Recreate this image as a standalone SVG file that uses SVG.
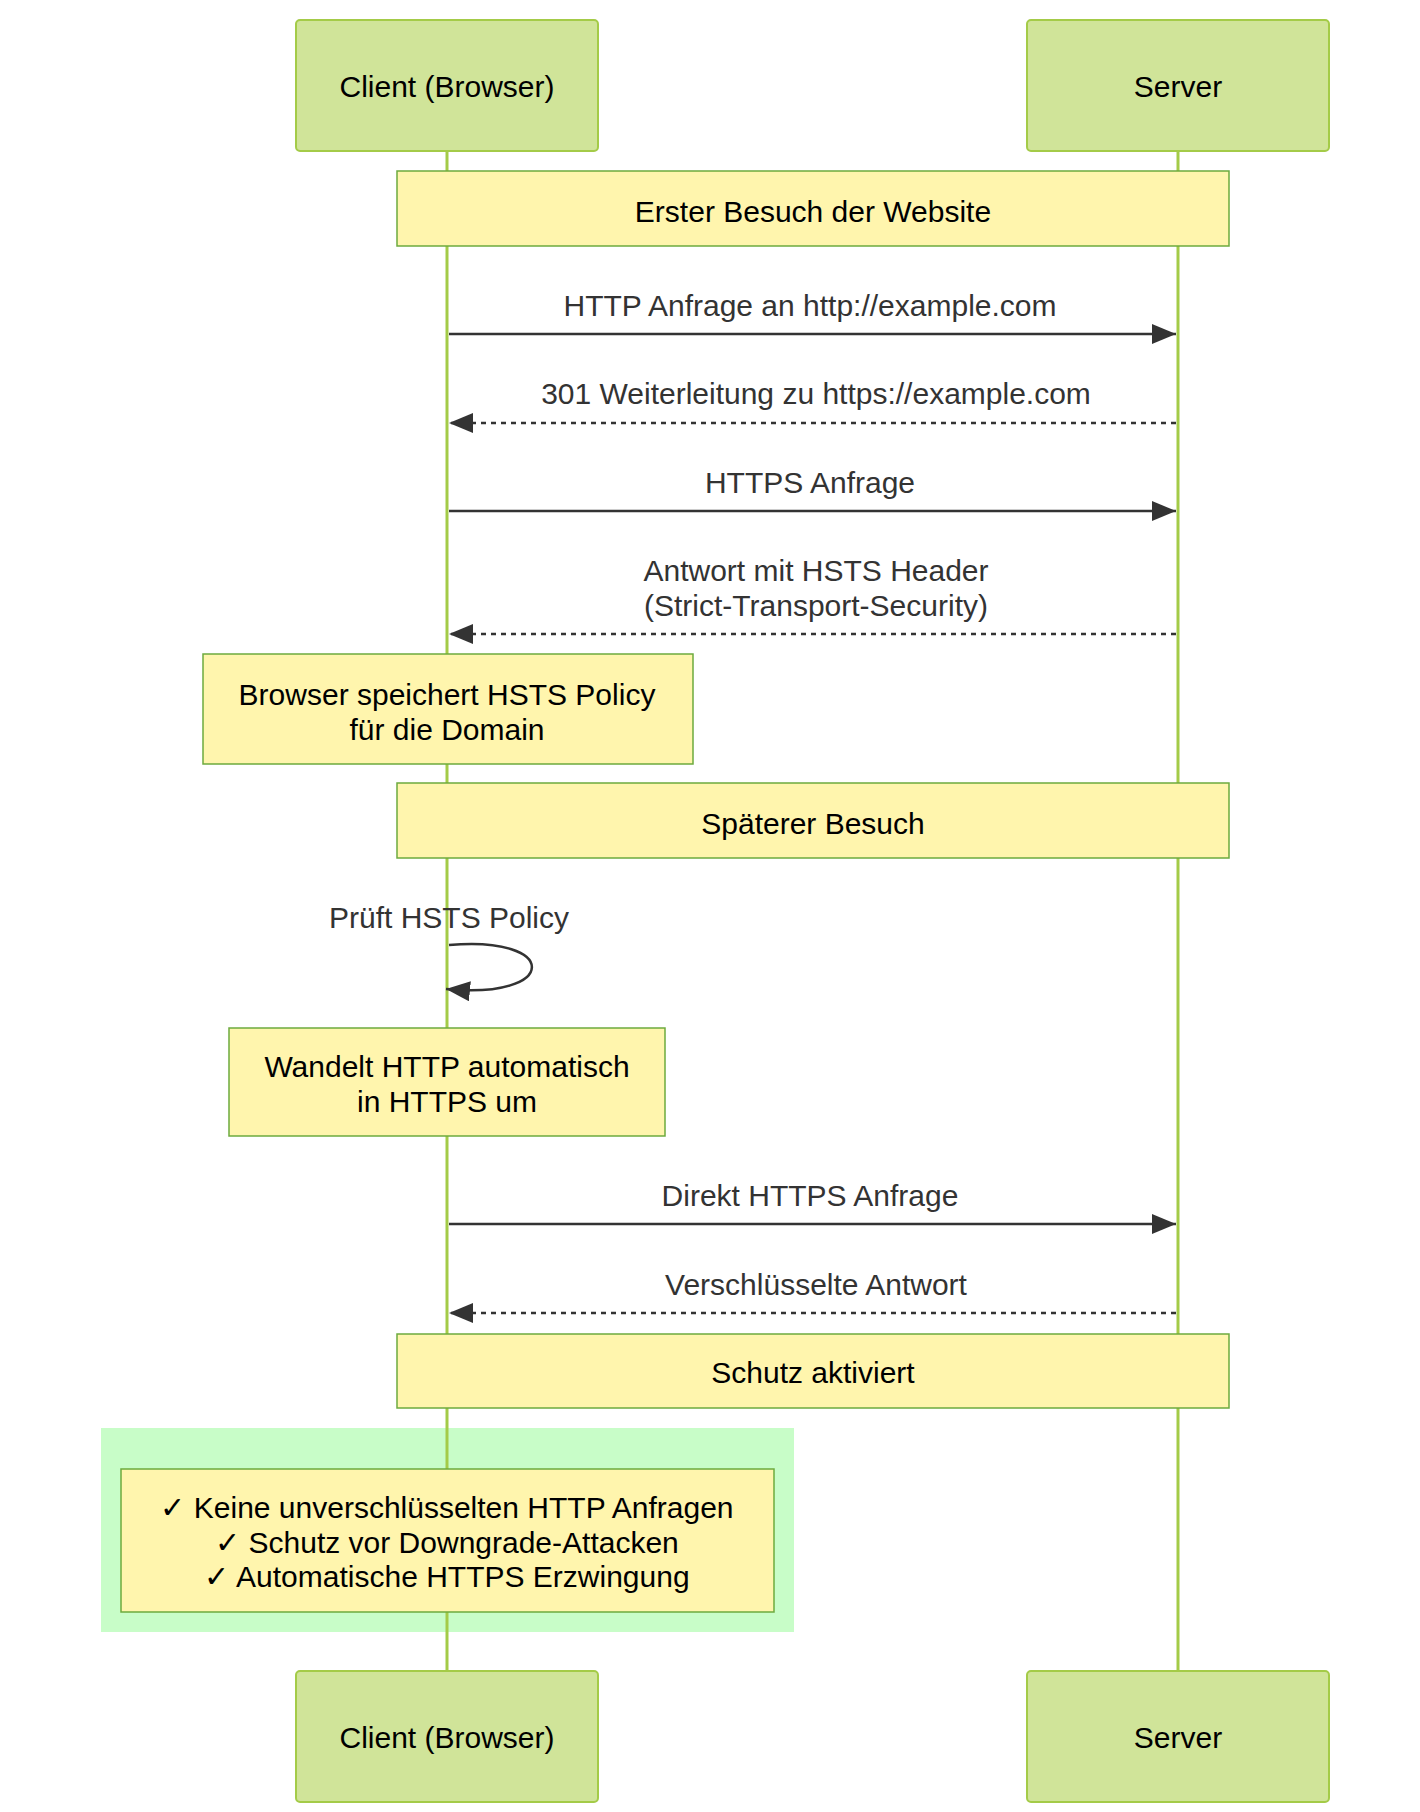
<svg xmlns="http://www.w3.org/2000/svg" width="1420" height="1812" viewBox="0 0 1420 1812">
<style>
text{font-family:"Liberation Sans",Arial,sans-serif;font-size:30px;text-anchor:middle;dominant-baseline:central}
.actor{fill:#d0e499;stroke:#a4cb48;stroke-width:2}
.note{fill:#fff5ad;stroke:#6daa3e;stroke-width:1.5}
.life{stroke:#a4cb48;stroke-width:3}
.msg{stroke:#333;stroke-width:2.5;fill:none}
.dash{stroke-dasharray:5 5}
.mt{fill:#333}
</style>
<defs><marker id="ah" viewBox="0 0 12 12" refX="12" refY="6" markerWidth="12" markerHeight="12" markerUnits="userSpaceOnUse" orient="auto"><path d="M0,0L12,6L0,12z" fill="#333"/></marker>
<marker id="ah2" viewBox="0 0 24 20" refX="24" refY="10" markerWidth="24" markerHeight="20" markerUnits="userSpaceOnUse" orient="auto"><path d="M0,0L24,10L0,20z" fill="#333"/></marker></defs>
<g id="lifelines"><line class="life" x1="447" y1="151" x2="447" y2="1671"/><line class="life" x1="1178" y1="151" x2="1178" y2="1671"/></g>
<rect x="101" y="1428" width="693" height="204" fill="#c8fdc8"/>
<line class="life" x1="447" y1="1428" x2="447" y2="1469"/><line class="life" x1="447" y1="1612" x2="447" y2="1632"/>
<g id="client-top"><rect class="actor" x="296" y="20" width="302" height="131" rx="4"/><text x="447" y="86">Client (Browser)</text></g>
<g id="server-top"><rect class="actor" x="1027" y="20" width="302" height="131" rx="4"/><text x="1178" y="86">Server</text></g>
<g id="client-bottom"><rect class="actor" x="296" y="1671" width="302" height="131" rx="4"/><text x="447" y="1737">Client (Browser)</text></g>
<g id="server-bottom"><rect class="actor" x="1027" y="1671" width="302" height="131" rx="4"/><text x="1178" y="1737">Server</text></g>
<g id="note1"><rect class="note" x="397" y="171" width="832" height="75"/><text x="813" y="211">Erster Besuch der Website</text></g>
<g id="note2"><rect class="note" x="203" y="654" width="490" height="110"/><text x="447" y="694">Browser speichert HSTS Policy</text><text x="447" y="729">für die Domain</text></g>
<g id="note3"><rect class="note" x="397" y="783" width="832" height="75"/><text x="813" y="823">Späterer Besuch</text></g>
<g id="note4"><rect class="note" x="229" y="1028" width="436" height="108"/><text x="447" y="1066">Wandelt HTTP automatisch</text><text x="447" y="1101">in HTTPS um</text></g>
<g id="note5"><rect class="note" x="397" y="1334" width="832" height="74"/><text x="813" y="1372">Schutz aktiviert</text></g>
<g id="note6"><rect class="note" x="121" y="1469" width="653" height="143"/><text x="447" y="1507">✓ Keine unverschlüsselten HTTP Anfragen</text><text x="447" y="1542">✓ Schutz vor Downgrade-Attacken</text><text x="447" y="1576">✓ Automatische HTTPS Erzwingung</text></g>
<g id="connectors">
<line class="msg" x1="449" y1="334" x2="1176" y2="334" marker-end="url(#ah2)"/>
<text class="mt" x="810" y="305">HTTP Anfrage an http://example.com</text>
<line class="msg dash" x1="1176" y1="423" x2="449" y2="423" marker-end="url(#ah2)"/>
<text class="mt" x="816" y="393">301 Weiterleitung zu https://example.com</text>
<line class="msg" x1="449" y1="511" x2="1176" y2="511" marker-end="url(#ah2)"/>
<text class="mt" x="810" y="482">HTTPS Anfrage</text>
<line class="msg dash" x1="1176" y1="634" x2="449" y2="634" marker-end="url(#ah2)"/>
<text class="mt" x="816" y="570">Antwort mit HSTS Header</text><text class="mt" x="816" y="605">(Strict-Transport-Security)</text>
<text class="mt" x="449" y="917">Prüft HSTS Policy</text>
<path class="msg" d="M449,945 C560,935 560,1000 446,989" marker-end="url(#ah2)"/>
<line class="msg" x1="449" y1="1224" x2="1176" y2="1224" marker-end="url(#ah2)"/>
<text class="mt" x="810" y="1195">Direkt HTTPS Anfrage</text>
<line class="msg dash" x1="1176" y1="1313" x2="449" y2="1313" marker-end="url(#ah2)"/>
<text class="mt" x="816" y="1284">Verschlüsselte Antwort</text>
</g>
</svg>
